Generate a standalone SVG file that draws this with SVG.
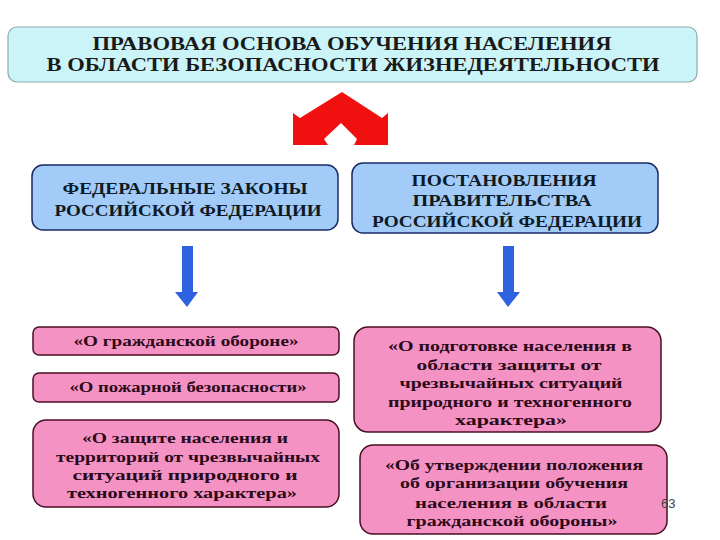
<svg xmlns="http://www.w3.org/2000/svg" width="720" height="540" viewBox="0 0 720 540">
<style>
.t{font-family:"Liberation Serif","Times New Roman",serif;font-weight:bold;text-anchor:middle}
.title{font-size:18px;fill:#1a1a1a}
.blue{fill:#a3cbf7;stroke:#1a2a66;stroke-width:1.5}
.bt{font-size:16px;fill:#0d1a26}
.pink{fill:#f592c4;stroke:#4a0f24;stroke-width:1.5}
.pt{font-size:15px;fill:#2a0a18}
.barrow{fill:#2e62e0}
</style>
<rect width="720" height="540" fill="#ffffff"/>
<g id="title">
<rect x="8" y="27" width="689" height="55" rx="9" fill="#cbf4f8" stroke="#8fa8ac" stroke-width="1.2"/>
<text class="t title" x="352" y="50" textLength="519" lengthAdjust="spacingAndGlyphs">ПРАВОВАЯ ОСНОВА ОБУЧЕНИЯ НАСЕЛЕНИЯ</text>
<text class="t title" x="353" y="71" textLength="613" lengthAdjust="spacingAndGlyphs">В ОБЛАСТИ  БЕЗОПАСНОСТИ ЖИЗНЕДЕЯТЕЛЬНОСТИ</text>
</g>
<g id="connectors">
<polygon points="293,113 300,118 342,92 382,118 388,113 388,145 354,145 357,139 341,123 324,139 328,145 293,145" fill="#f01010"/>
<polygon class="barrow" points="182,246 193,246 193,292 198,292 187,307 175,292 182,292"/>
<polygon class="barrow" points="503,246 514,246 514,292 520,292 508,307 497,292 503,292"/>
</g>
<g id="federal-laws">
<rect class="blue" x="32" y="165" width="306" height="65" rx="11"/>
<text class="t bt" x="185" y="194" textLength="245" lengthAdjust="spacingAndGlyphs">ФЕДЕРАЛЬНЫЕ ЗАКОНЫ</text>
<text class="t bt" x="188" y="216" textLength="267" lengthAdjust="spacingAndGlyphs">РОССИЙСКОЙ ФЕДЕРАЦИИ</text>
</g>
<g id="government-decrees">
<rect class="blue" x="352" y="163" width="306" height="70" rx="11"/>
<text class="t bt" x="504" y="186" textLength="185" lengthAdjust="spacingAndGlyphs">ПОСТАНОВЛЕНИЯ</text>
<text class="t bt" x="502" y="206" textLength="179" lengthAdjust="spacingAndGlyphs">ПРАВИТЕЛЬСТВА</text>
<text class="t bt" x="507" y="227" textLength="270" lengthAdjust="spacingAndGlyphs">РОССИЙСКОЙ ФЕДЕРАЦИИ</text>
</g>
<g id="law-civil-defense">
<rect class="pink" x="33" y="327" width="306" height="28" rx="6"/>
<text class="t pt" x="186" y="346" textLength="225" lengthAdjust="spacingAndGlyphs">«О гражданской обороне»</text>
</g>
<g id="law-fire-safety">
<rect class="pink" x="33" y="373" width="306" height="29" rx="6"/>
<text class="t pt" x="188" y="392" textLength="237" lengthAdjust="spacingAndGlyphs">«О пожарной безопасности»</text>
</g>
<g id="law-emergency">
<rect class="pink" x="33" y="420" width="306" height="87" rx="13"/>
<text class="t pt" x="185" y="443" textLength="206" lengthAdjust="spacingAndGlyphs">«О защите населения и</text>
<text class="t pt" x="188" y="462" textLength="264" lengthAdjust="spacingAndGlyphs">территорий от чрезвычайных</text>
<text class="t pt" x="185" y="480" textLength="225" lengthAdjust="spacingAndGlyphs">ситуаций природного и</text>
<text class="t pt" x="182" y="498" textLength="230" lengthAdjust="spacingAndGlyphs">техногенного характера»</text>
</g>
<g id="decree-training">
<rect class="pink" x="354" y="327" width="307" height="105" rx="14"/>
<text class="t pt" x="510" y="351" textLength="244" lengthAdjust="spacingAndGlyphs">«О подготовке населения в</text>
<text class="t pt" x="509" y="370" textLength="185" lengthAdjust="spacingAndGlyphs">области защиты от</text>
<text class="t pt" x="511" y="388" textLength="223" lengthAdjust="spacingAndGlyphs">чрезвычайных ситуаций</text>
<text class="t pt" x="510" y="407" textLength="244" lengthAdjust="spacingAndGlyphs">природного и техногенного</text>
<text class="t pt" x="511" y="425" textLength="112" lengthAdjust="spacingAndGlyphs">характера»</text>
</g>
<g id="decree-regulation">
<rect class="pink" x="360" y="445" width="307" height="89" rx="13"/>
<text class="t pt" x="514" y="470" textLength="258" lengthAdjust="spacingAndGlyphs">«Об утверждении положения</text>
<text class="t pt" x="514" y="488" textLength="228" lengthAdjust="spacingAndGlyphs">об организации обучения</text>
<text class="t pt" x="511" y="508" textLength="192" lengthAdjust="spacingAndGlyphs">населения в области</text>
<text class="t pt" x="512" y="526" textLength="211" lengthAdjust="spacingAndGlyphs">гражданской обороны»</text>
</g>
<text x="661" y="508" font-family="Liberation Sans, Arial, sans-serif" font-size="13" fill="#444">63</text>
</svg>
